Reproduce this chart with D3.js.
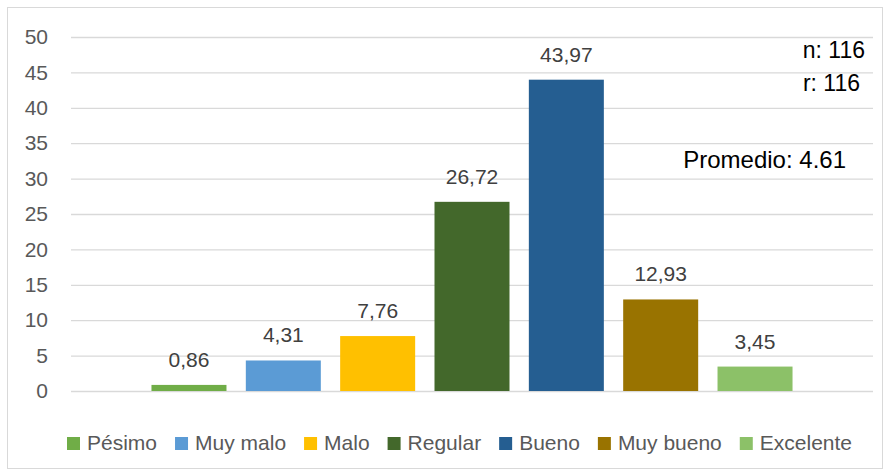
<!DOCTYPE html>
<html>
<head>
<meta charset="utf-8">
<script src="https://cdn.jsdelivr.net/npm/d3@7"></script>
<style>
  body { margin: 0; background: #fff; }
  text { font-family: "Liberation Sans", Arial, sans-serif; }
</style>
</head>
<body>
<div id="chart"></div>
<script>
// datos del grafico
const categorias = ["Pésimo", "Muy malo", "Malo", "Regular", "Bueno", "Muy bueno", "Excelente"];
const valores = [0.86, 4.31, 7.76, 26.72, 43.97, 12.93, 3.45];
const colores = ["#70AD47", "#5B9BD5", "#FFC000", "#43682B", "#255E91", "#997300", "#8CC168"];
const ticksY = [0, 5, 10, 15, 20, 25, 30, 35, 40, 45, 50];
const notas = ["n: 116", "r: 116", "Promedio: 4.61"];

const W = 890, H = 475;
const margin = {top: 37, right: 17, bottom: 84, left: 71};

const svg = d3.select("#chart")
  .append("svg")
  .attr("width", W)
  .attr("height", H);

// marco
svg.append("rect")
  .attr("x", 7.5).attr("y", 7.5)
  .attr("width", W - 15).attr("height", H - 14)
  .attr("fill", "white")
  .attr("stroke", "#D9D9D9");

const y = d3.scaleLinear()
  .domain([0, 50])
  .range([H - margin.bottom, margin.top]);

const x = d3.scaleBand()
  .domain(categorias)
  .range([margin.left, W - margin.right])
  .paddingInner(0.205)
  .paddingOuter(0.853);

// lineas de grilla + etiquetas del eje
const ejeY = svg.append("g")
  .attr("transform", `translate(${margin.left},0)`)
  .call(d3.axisLeft(y)
    .tickValues(ticksY)
    .tickSize(-(W - margin.left - margin.right))
    .tickPadding(23));
ejeY.select(".domain").remove();
ejeY.selectAll(".tick line").attr("stroke", "#D9D9D9").attr("stroke-width", 1.3);
ejeY.selectAll(".tick text")
  .attr("fill", "#595959")
  .style("font-size", "21px");

// barras
svg.append("g")
  .selectAll("rect")
  .data(valores)
  .enter()
  .append("rect")
  .attr("x", (d, i) => x(categorias[i]))
  .attr("y", d => y(d))
  .attr("width", x.bandwidth())
  .attr("height", d => y(0) - y(d))
  .attr("fill", (d, i) => colores[i]);

// etiquetas de valores
const fmt = d3.format(".2f");
svg.append("g")
  .selectAll("text")
  .data(valores)
  .enter()
  .append("text")
  .attr("x", (d, i) => x(categorias[i]) + x.bandwidth() / 2)
  .attr("y", d => y(d) - 18)
  .attr("text-anchor", "middle")
  .attr("fill", "#404040")
  .style("font-size", "21px")
  .text(d => fmt(d).replace(".", ","));

// notas
svg.append("text").attr("x", 865).attr("y", 58).attr("text-anchor", "end")
  .attr("fill", "#000").style("font-size", "23px").text(notas[0]);
svg.append("text").attr("x", 860).attr("y", 91).attr("text-anchor", "end")
  .attr("fill", "#000").style("font-size", "23px").text(notas[1]);
svg.append("text").attr("x", 846).attr("y", 168).attr("text-anchor", "end")
  .attr("fill", "#000").style("font-size", "24px").text(notas[2]);

// leyenda
const leyenda = svg.append("g").attr("transform", "translate(67,450)");
let posX = 0;
categorias.forEach((c, i) => {
  const item = leyenda.append("g").attr("transform", `translate(${posX},0)`);
  item.append("rect")
    .attr("x", 0).attr("y", -13)
    .attr("width", 13).attr("height", 13)
    .attr("fill", colores[i]);
  const t = item.append("text")
    .attr("x", 20).attr("y", 0)
    .attr("fill", "#595959")
    .style("font-size", "21px")
    .text(c);
  posX += 20 + t.node().getComputedTextLength() + 18;
});
</script>
</body>
</html>
